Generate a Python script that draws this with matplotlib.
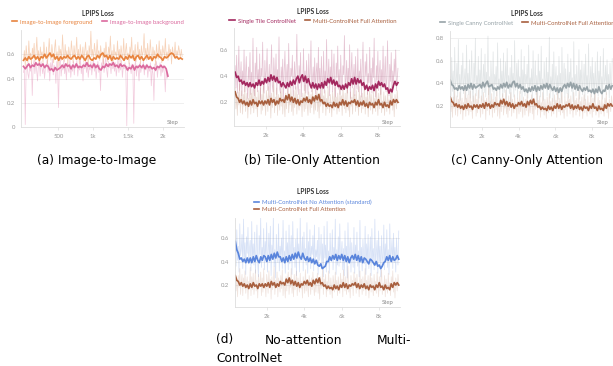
import numpy as np
import matplotlib
matplotlib.use('Agg')
import matplotlib.pyplot as plt
from matplotlib.lines import Line2D

plt.rcParams['font.family'] = ['Lato', 'DejaVu Sans']

# values in percent (LPIPS x 100)
# (a) image-to-image
fg_raw = [55,63,50,67,58,53,71,57,61,52,65,59,69,54,60,74,57,63,51,66,
          59,62,53,70,60,56,66,52,61,73,58,55,68,60,53,64,72,57,62,49,
          67,59,64,55,76,61,54,68,58,63,51,66,60,57,71,62,53,67,59,61,
          74,56,64,52,68,60,58,66,54,62,70,57,63,50,67,60,79,58,64,55,
          69,61,56,72,60,63,55,67,59,62,52,65,58,70,61,54,66,60,75,57,
          63,51,68,59,62,56,71,58,64,53,67,60,57,73,55,62,69,58,61,52,
          66,60,74,56,63,58,68,54,61,70,57,64,52,67,59,62,77,58,65,55,
          69,60,57,72,61,54,66,59,63,51,68,60,56,71,58,64,53,67,62,59,
          73,57,62,55,68,60,64,52,66,61,58,70,56,63,59,67,62,57,64,58]
fg_smooth = [55,57,55,58,56,57,59,56,58,55, 58,57,60,57,59,61,58,60,56,58,
             55,58,56,58,57,59,57,56,58,59, 56,58,56,59,57,55,58,59,56,55,
             57,56,59,57,60,61,58,59,56,59, 55,58,56,57,56,59,57,55,58,56,
             59,57,59,55,58,59,56,58,55,57, 59,56,58,55,58,57,60,58,57,55,
             58,57,58,60,61,60,57,58,56,57, 56]
bg_raw = [45,49,2,48,52,44,40,50,46,53,26,50,55,44,53,47,38,51,56,42,
          54,49,44,52,40,48,50,55,45,52,38,53,47,56,43,51,48,36,54,46,
          16,52,57,42,50,47,55,44,51,39,53,48,45,56,41,50,46,54,43,52,
          49,55,42,51,47,57,44,50,38,53,48,55,45,52,41,50,47,54,43,51,
          56,46,52,40,49,54,45,51,30,53,48,56,45,52,58,47,41,54,49,52,
          44,55,48,51,46,53,42,50,57,45,52,47,55,41,50,48,53,44,1,50,
          46,53,49,44,52,47,3,49,55,42,51,47,38,53,45,50,48,54,43,51,
          47,52,41,50,46,53,34,48,44,22,52,46,54,41,50,47,53,42,49,45,
          51,44,29,47,40,42]
bg_smooth = [50,48,50,52,49,51,50,53,51,52, 50,52,49,51,50,47,48,46,49,47,
             48,49,51,49,52,50,51,48,51,49, 52,49,50,49,51,50,53,50,51,49,
             52,49,51,48,47,50,49,52,50,52, 51,53,50,51,49,52,50,51,50,47,
             49,48,51,47,50,49,51,49,51,48, 51,49,50,48,49,47,50,49,51,49,
             50,48,42]

# (b)-(d) controlnet runs
tile_raw = [48,31,56,27,42,63,29,39,51,25,44,34,60,28,41,55,32,23,47,37,
            58,26,43,35,69,30,25,50,38,62,28,45,33,57,22,46,40,66,31,27,
            52,36,44,61,29,38,49,24,43,64,33,28,54,41,35,57,26,45,37,70,
            30,27,47,36,53,23,44,59,32,40,49,27,65,35,31,46,40,56,25,39,
            51,30,45,72,33,26,48,37,58,24,41,36,61,29,44,27,52,39,26,57,
            34,42,67,28,37,47,32,54,26,43,50,29,62,35,46,23,55,38,30,59,
            27,44,36,68,31,40,53,25,47,34,60,28,42,57,33,24,50,39,63,30,
            45,26,56,37,29,48,41,71,32,38,52,27,46,35,64,23,43,58,31,40,
            49,25,55,36,30,61,28,44,38,53,24,47,66,33,29,51,40,57,26,42,
            35,62,30,46,27,54,39,69,32,24,48,37,59,29,43,52,26,45,34,63,
            31,41,55,28,38,67,33,25,49,36,58,27,44,31,53,40,60,29,37,46]
tile_smooth = [43,39,40,36,37,34,36,33,35,32, 35,32,34,31,35,33,37,33,36,34,
               38,35,39,36,41,37,40,36,39,35, 36,32,35,33,31,35,32,36,33,37,
               34,38,40,35,39,41,36,40,35,38, 34,31,35,31,34,30,34,31,35,31,
               36,33,38,35,39,34,37,33,36,32, 33,30,33,30,34,31,35,33,38,34,
               39,34,38,35,37,33,35,30,33,29, 32,30,33,29,34,31,36,33,35,32,
               34,30,31,27,30,28,33,36,33,35]
full_raw = [31,15,25,10,28,18,34,12,22,29,11,26,17,32,13,21,27,8,23,19,
            35,11,27,16,30,12,20,33,15,24,9,29,18,22,31,11,26,14,34,17,
            21,10,29,23,13,32,19,25,8,27,16,22,36,12,24,18,31,10,26,20,
            14,28,17,33,11,23,19,9,27,15,25,31,12,21,18,34,13,24,10,29,
            16,22,32,11,26,19,14,30,17,23,9,27,20,13,33,15,24,18,10,28,
            21,12,26,16,31,19,11,25,14,22,30,13,24,8,27,17,21,34,12,25,
            18,29,10,23,15,32,20,12,26,17,9,28,22,14,31,16,24,11,27,19,
            13,30,18,25,10,33,21,15,27,12,23,36,14,20,9,28,17,24,11,31,
            19,26,13,29,16,22,10,32,18,25,12,27,15,21,34,11,24,17,28,9,
            22,30,14,26,18,11,29,16,23,13,31,20,10,27,15,24,33,12,21,17,
            28,10,25,19,13,30,16,22,11,27,18,32,14,23,9,26,20,15,29,21]
full_smooth = [28,24,23,20,22,19,21,18,20,17, 21,18,22,19,20,17,21,19,21,18,
               21,19,22,18,23,20,22,18,21,19, 23,21,22,20,25,22,26,21,24,20,
               23,19,22,18,21,20,23,21,24,20, 22,19,24,21,25,22,26,21,22,19,
               20,17,19,17,18,16,20,17,19,16, 20,18,22,18,21,17,20,19,21,20,
               22,18,21,17,20,18,21,17,19,16, 20,18,19,16,20,18,22,18,19,16,
               20,17,18,16,21,18,22,20,22,20]
canny_raw = [46,29,63,33,51,23,72,37,42,58,28,79,35,48,25,56,39,67,31,44,
             53,26,74,38,49,30,61,27,45,69,34,24,58,41,80,29,47,36,64,27,
             52,38,71,25,43,57,32,66,28,50,37,82,30,46,22,60,41,33,68,26,
             48,39,55,29,76,35,44,24,62,37,51,28,67,32,45,59,25,71,40,47,
             31,54,23,65,36,49,28,78,34,43,58,27,61,38,46,31,70,24,52,35,
             64,29,48,40,57,27,74,33,45,38,53,26,69,36,42,60,30,47,22,66,
             39,51,28,73,34,44,25,59,41,36,63,29,50,37,81,27,46,33,57,24,
             68,35,42,55,30,47,26,64,38,49,23,72,36,44,58,28,53,40,31,66,
             27,50,39,62,33,45,24,77,35,48,29,56,41,34,70,26,52,37,60,30,
             44,57,25,66,38,47,31,75,33,42,55,28,63,36,49,24,59,40,35,68,
             29,51,37,64,32,46,26,71,39,43,56,30,61,35,48,27,58,41,34,62]
canny_smooth = [43,39,38,35,36,34,38,35,37,34, 38,34,39,36,40,35,39,36,37,38,
                39,36,41,37,40,42,37,38,39,35, 36,34,37,35,39,36,40,37,41,36,
                39,37,41,42,37,40,36,39,35,37, 33,35,32,36,33,37,34,38,33,37,
                34,38,35,39,36,40,35,39,36,34, 37,33,36,32,36,33,37,39,36,40,
                37,41,36,40,35,39,34,38,35,33, 36,34,37,33,34,32,35,31,35,32,
                37,33,31,34,33,38,35,39,35,38]
noatt_raw = [59,36,67,41,53,31,72,45,50,63,34,76,42,56,29,61,47,69,38,51,
             58,32,74,44,55,37,65,30,49,71,40,27,62,46,77,35,52,43,68,33,
             57,45,73,31,48,64,39,70,28,54,42,78,36,50,26,63,47,39,72,32,
             53,45,60,34,75,41,49,30,66,43,56,33,71,38,51,62,29,74,46,52,
             35,59,28,68,42,55,31,77,40,48,61,32,65,44,51,37,73,30,57,41,
             67,34,53,46,62,32,71,39,50,44,58,29,69,41,47,63,35,55,27,70,
             43,54,31,74,38,49,30,64,45,40,67,33,52,42,76,29,50,37,61,36,
             72,39,46,57,33,51,28,66,43,53,26,73,40,48,60,31,56,44,35,69,
             30,54,42,65,36,49,27,75,39,52,32,59,45,38,70,29,55,41,63,34,
             48,61,28,68,42,51,33,76,37,47,58,30,66,40,53,27,62,44,38,71,
             33,55,41,67,35,50,29,72,43,47,59,34,64,39,52,31,60,45,37,66]
noatt_smooth = [57,50,47,42,43,40,42,39,43,39, 43,39,44,40,45,41,39,44,41,45,
                44,40,45,41,46,42,47,43,48,44, 44,40,43,39,44,40,45,41,46,42,
                47,43,48,44,42,47,43,41,44,40, 43,39,42,38,41,37,36,38,34,35,
                36,40,40,44,41,45,42,46,41,45, 42,46,41,45,40,44,39,43,45,42,
                46,41,45,40,44,39,43,42,40,38, 42,41,39,37,40,36,37,34,36,39,
                40,44,41,45,40,44,41,42,45,42]

W, H = 613, 366
fig = plt.figure(figsize=(W / 100, H / 100), dpi=100)

TICK_C = '#999999'
FS = 4.3


def make_ax(l, r, top, bot):
    ax = fig.add_axes([l / W, 1 - bot / H, (r - l) / W, (bot - top) / H])
    for s in ('top', 'right'):
        ax.spines[s].set_visible(False)
    for s in ('left', 'bottom'):
        ax.spines[s].set_color('#dddddd')
        ax.spines[s].set_linewidth(0.6)
    ax.grid(axis='y', color='#ececec', lw=0.6)
    ax.set_axisbelow(True)
    ax.tick_params(axis='y', length=0, labelsize=FS, labelcolor=TICK_C, pad=4)
    ax.tick_params(axis='x', length=2, color='#dddddd', width=0.5,
                   labelsize=FS, labelcolor=TICK_C, pad=3)
    return ax


def draw(ax, x0, x1, raw, smooth, color, ralpha):
    xs = np.linspace(x0, x1, len(raw))
    ax.plot(xs, np.array(raw) / 100, color=color, lw=0.55, alpha=ralpha)
    return np.linspace(x0, x1, len(smooth)), np.array(smooth) / 100


def header(cx, ty, ly, names, colors, ncol=2):
    fig.text(cx / W, 1 - ty / H, 'LPIPS Loss', ha='center', va='center',
             fontsize=4.8, weight='bold', color='#333333')
    hs = [Line2D([], [], color=c, lw=1.2) for c in colors]
    fig.legend(hs, names, loc='center', bbox_to_anchor=(cx / W, 1 - ly / H),
               ncol=ncol, frameon=False, fontsize=FS, handlelength=0.9,
               handletextpad=0.5, columnspacing=1.5, labelcolor='linecolor',
               borderpad=0, borderaxespad=0, labelspacing=0.3)


def step_label(ax, x, y):
    ax.text(x, y, 'Step', transform=ax.transAxes, ha='right', va='center',
            fontsize=FS, color='#888888')


ORANGE, PINK = '#e8843f', '#db6a9e'
TILE, FULL = '#a3285f', '#a85f3e'
CANNY, BLUE = '#97a3a8', '#5a85dc'
LW = 1.25

# ---- (a)
ax = make_ax(21, 184, 30, 127)
fx, fy = draw(ax, 0, 2280, fg_raw, fg_smooth, ORANGE, 0.36)
bx, by = draw(ax, 0, 2075, bg_raw, bg_smooth, PINK, 0.34)
ax.plot(fx, fy, color=ORANGE, lw=LW)
ax.plot(bx, by, color=PINK, lw=LW)
ax.set_xlim(-36, 2306)
ax.set_ylim(0, 0.8)
ax.set_yticks([0, 0.2, 0.4, 0.6], ['0', '0.2', '0.4', '0.6'])
ax.set_xticks([500, 1000, 1500, 2000], ['500', '1k', '1.5k', '2k'])
step_label(ax, 0.965, 0.05)
header(98, 13, 22, ['Image-to-Image foreground', 'Image-to-Image background'],
       [ORANGE, PINK])

kticks = [2000, 4000, 6000, 8000]
klabels = ['2k', '4k', '6k', '8k']

# ---- (b)
ax = make_ax(234, 400, 28, 126)
tx, ty = draw(ax, 350, 9060, tile_raw, tile_smooth, TILE, 0.27)
gx, gy = draw(ax, 350, 9060, full_raw, full_smooth, FULL, 0.22)
ax.plot(tx, ty, color=TILE, lw=LW)
ax.plot(gx, gy, color=FULL, lw=LW)
ax.set_xlim(289, 9170)
ax.set_ylim(0.019, 0.768)
ax.set_yticks([0.2, 0.4, 0.6], ['0.2', '0.4', '0.6'])
ax.set_xticks(kticks, klabels)
step_label(ax, 0.96, 0.04)
header(313, 11, 21, ['Single Tile ControlNet', 'Multi-ControlNet Full Attention'],
       [TILE, FULL])

# ---- (c)
ax = make_ax(450, 613, 31, 127)
cx_, cy_ = draw(ax, 300, 9080, canny_raw, canny_smooth, CANNY, 0.27)
gx, gy = draw(ax, 300, 9080, full_raw, full_smooth, FULL, 0.18)
ax.plot(cx_, cy_, color=CANNY, lw=LW)
ax.plot(gx, gy, color=FULL, lw=LW)
ax.set_xlim(287, 9122)
ax.set_ylim(0.014, 0.865)
ax.set_yticks([0.2, 0.4, 0.6, 0.8], ['0.2', '0.4', '0.6', '0.8'])
ax.set_xticks(kticks, klabels)
step_label(ax, 0.97, 0.045)
header(527, 13, 23, ['Single Canny ControlNet', 'Multi-ControlNet Full Attention'],
       [CANNY, FULL])

# ---- (d)
ax = make_ax(235, 400, 218, 307)
nx, ny = draw(ax, 300, 9060, noatt_raw, noatt_smooth, BLUE, 0.24)
gx, gy = draw(ax, 300, 9060, full_raw, full_smooth, FULL, 0.17)
ax.plot(nx, ny, color=BLUE, lw=LW)
ax.plot(gx, gy, color=FULL, lw=LW)
ax.set_xlim(284, 9128)
ax.set_ylim(0.013, 0.77)
ax.set_yticks([0.2, 0.4, 0.6], ['0.2', '0.4', '0.6'])
ax.set_xticks(kticks, klabels)
step_label(ax, 0.96, 0.055)
header(313, 192, 205.5, ['Multi-ControlNet No Attention (standard)',
                         'Multi-ControlNet Full Attention'], [BLUE, FULL], ncol=1)

# captions
cap = dict(fontsize=8.8, family='DejaVu Sans', color='black', va='center')
fig.text(97 / W, 1 - 160 / H, '(a) Image-to-Image', ha='center', **cap)
fig.text(312 / W, 1 - 160 / H, '(b) Tile-Only Attention', ha='center', **cap)
fig.text(527 / W, 1 - 161 / H, '(c) Canny-Only Attention', ha='center', **cap)
fig.text(216 / W, 1 - 340 / H, '(d)', ha='left', **cap)
fig.text(304 / W, 1 - 340 / H, 'No-attention', ha='center', **cap)
fig.text(411 / W, 1 - 340 / H, 'Multi-', ha='right', **cap)
fig.text(216 / W, 1 - 358 / H, 'ControlNet', ha='left', **cap)

fig.savefig('out.png', dpi=100)
